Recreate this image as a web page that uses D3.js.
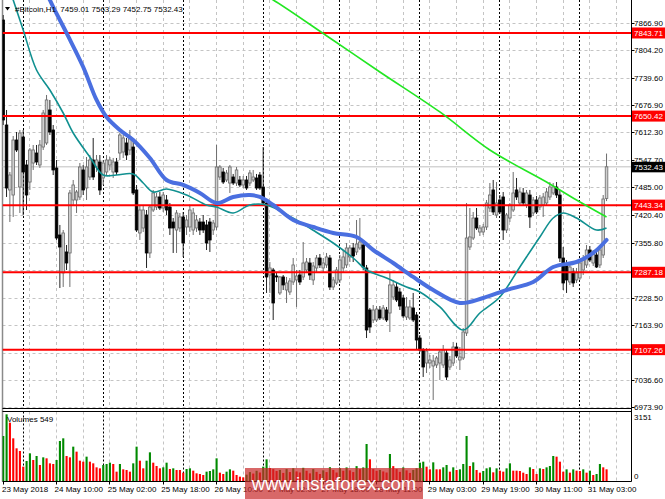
<!DOCTYPE html>
<html><head><meta charset="utf-8">
<script src="https://cdn.jsdelivr.net/npm/d3@7"></script>
<style>
body{margin:0;background:#fff;}
svg{display:block;}
text{font-family:"Liberation Sans",Arial,sans-serif;}
</style>
</head><body>
<svg id="c" width="665" height="499"></svg>
<script>
// ---------------- DATA ----------------
const symbolTitle = "#Bitcoin,H1";
const lastOHLC = [7459.01, 7563.29, 7452.75, 7532.43];

const opens = [7873.9,7629.7,7478.6,7466.9,7594.8,7485.5,7601.8,7536.7,7497.1,7541.3,
7564.6,7536.7,7578.5,7587.9,7664.6,7618.1,7529.7,7373.9,7285.6,7334.4,
7332.1,7455.3,7455.3,7462.3,7525.1,7483.2,7508.8,7548.3,7532.0,7543.7,
7506.5,7520.4,7536.7,7520.4,7543.7,7564.6,7566.9,7587.9,7571.6,7578.5,
7478.6,7378.6,7390.2,7420.4,7332.1,7432.0,7439.0,7462.3,7436.7,7455.3,
7439.0,7404.1,7385.5,7390.2,7415.8,7392.5,7392.5,7385.5,7390.2,7404.1,
7404.1,7397.2,7404.1,7385.5,7392.5,7508.8,7520.4,7501.8,7494.8,7508.8,
7494.8,7501.8,7490.2,7501.8,7494.8,7501.8,7506.5,7513.4,7485.5,7448.3,
7280.9,7292.5,7278.6,7239.1,7276.3,7246.0,7241.4,7264.6,7269.3,7280.9,
7276.3,7292.5,7308.8,7269.3,7297.2,7320.4,7297.2,7304.2,7320.4,7253.0,
7262.3,7269.3,7297.2,7304.2,7322.8,7343.7,7334.4,7343.7,7350.6,7297.2,
7199.5,7176.2,7176.2,7199.5,7180.9,7199.5,7192.5,7229.7,7253.0,7241.4,
7227.4,7183.2,7180.9,7204.2,7187.9,7134.3,7106.5,7076.2,7076.2,7069.3,
7071.6,7076.2,7071.6,7099.5,7066.9,7076.2,7113.4,7083.2,7087.9,7146.0,
7346.0,7366.9,7413.4,7380.9,7380.9,7392.5,7436.7,7478.6,7420.4,7455.3,
7462.3,7385.5,7413.4,7432.0,7478.6,7448.3,7471.6,7443.7,7466.9,7425.1,
7455.3,7439.0,7443.7,7448.3,7462.3,7471.6,7485.5,7466.9,7320.4,7304.2,
7264.6,7287.9,7269.3,7273.9,7292.5,7304.2,7339.0,7308.8,7327.4,7304.2,
7327.4,7459.01];
const highs = [7885.5,7664.6,7520.4,7604.1,7613.4,7618.1,7618.1,7548.3,7576.2,7583.2,
7583.2,7594.8,7664.6,7699.5,7687.9,7629.7,7548.3,7397.2,7385.5,7350.6,
7478.6,7501.8,7478.6,7541.3,7536.7,7555.3,7559.9,7599.5,7559.9,7559.9,
7548.3,7559.9,7555.3,7553.0,7553.0,7611.1,7606.5,7599.5,7618.1,7594.8,
7490.2,7443.7,7443.7,7432.0,7443.7,7478.6,7471.6,7473.9,7473.9,7466.9,
7448.3,7413.4,7432.0,7425.1,7427.4,7420.4,7443.7,7436.7,7420.4,7413.4,
7420.4,7408.8,7413.4,7408.8,7583.2,7536.7,7529.7,7525.1,7536.7,7515.8,
7532.0,7511.1,7511.1,7511.1,7525.1,7525.1,7515.8,7520.4,7578.5,7455.3,
7311.1,7297.2,7287.9,7278.6,7280.9,7276.3,7273.9,7320.4,7292.5,7292.5,
7357.6,7320.4,7320.4,7311.1,7327.4,7329.7,7320.4,7332.1,7327.4,7276.3,
7299.5,7327.4,7339.0,7355.3,7350.6,7355.3,7408.8,7413.4,7362.3,7304.2,
7204.2,7211.1,7208.8,7208.8,7211.1,7206.5,7287.9,7269.3,7262.3,7250.7,
7234.4,7229.7,7222.8,7239.1,7194.8,7141.3,7111.1,7111.1,7094.9,7094.9,
7092.6,7106.5,7118.1,7106.5,7092.6,7125.1,7122.7,7113.4,7157.6,7448.3,
7436.7,7427.4,7436.7,7397.2,7399.5,7455.3,7494.8,7501.8,7497.1,7466.9,
7473.9,7425.1,7448.3,7520.4,7506.5,7483.2,7483.2,7478.6,7478.6,7462.3,
7464.6,7466.9,7471.6,7483.2,7497.1,7494.8,7497.1,7478.6,7346.0,7315.8,
7308.8,7297.2,7297.2,7315.8,7327.4,7350.6,7348.3,7339.0,7334.4,7350.6,
7466.9,7563.29];
const lows = [7629.7,7462.3,7404.1,7415.8,7566.9,7425.1,7420.4,7432.0,7478.6,7525.1,
7536.7,7529.7,7571.6,7583.2,7606.5,7513.4,7362.3,7250.7,7253.0,7292.5,
7253.0,7443.7,7425.1,7455.3,7466.9,7455.3,7501.8,7501.8,7520.4,7466.9,
7490.2,7513.4,7525.1,7506.5,7513.4,7548.3,7553.0,7548.3,7559.9,7466.9,
7380.9,7362.3,7380.9,7297.2,7320.4,7427.4,7432.0,7432.0,7427.4,7420.4,
7373.9,7332.1,7332.1,7380.9,7322.8,7373.9,7380.9,7373.9,7380.9,7373.9,
7378.6,7339.0,7334.4,7373.9,7385.5,7501.8,7492.5,7497.1,7471.6,7490.2,
7487.9,7485.5,7483.2,7478.6,7487.9,7497.1,7478.6,7478.6,7443.7,7239.1,
7239.1,7176.2,7264.6,7234.4,7246.0,7215.8,7234.4,7257.7,7206.5,7257.7,
7269.3,7285.6,7269.3,7257.7,7287.9,7297.2,7285.6,7297.2,7246.0,7246.0,
7257.7,7262.3,7287.9,7297.2,7311.1,7311.1,7327.4,7339.0,7292.5,7134.3,
7146.0,7169.2,7171.6,7176.2,7176.2,7171.6,7148.3,7222.8,7218.1,7199.5,
7180.9,7176.2,7176.2,7171.6,7106.5,7101.8,7043.7,7053.0,7064.6,6990.2,
7064.6,7036.7,7064.6,7036.7,7060.0,7069.3,7087.9,7060.0,7083.2,7139.0,
7339.0,7362.3,7385.5,7371.6,7373.9,7385.5,7427.4,7420.4,7413.4,7422.7,
7362.3,7378.6,7404.1,7427.4,7455.3,7441.3,7441.3,7436.7,7390.2,7418.1,
7422.7,7432.0,7415.8,7441.3,7455.3,7466.9,7460.0,7311.1,7246.0,7239.1,
7257.7,7253.0,7262.3,7269.3,7280.9,7297.2,7311.1,7301.8,7297.2,7297.2,
7320.4,7452.75];
const closes = [7641.3,7483.2,7513.4,7594.8,7571.6,7611.1,7520.4,7466.9,7571.6,7571.6,
7543.7,7583.2,7657.6,7687.9,7613.4,7525.1,7366.9,7346.0,7378.6,7308.8,
7471.6,7490.2,7473.9,7532.0,7478.6,7532.0,7548.3,7508.8,7548.3,7478.6,
7541.3,7548.3,7548.3,7543.7,7520.4,7606.5,7599.5,7559.9,7601.8,7471.6,
7385.5,7432.0,7432.0,7332.1,7439.0,7471.6,7462.3,7436.7,7466.9,7432.0,
7390.2,7390.2,7425.1,7415.8,7355.3,7408.8,7432.0,7425.1,7408.8,7385.5,
7385.5,7355.3,7362.3,7401.8,7532.0,7532.0,7497.1,7518.1,7532.0,7494.8,
7525.1,7490.2,7501.8,7483.2,7518.1,7508.8,7483.2,7483.2,7448.3,7276.3,
7297.2,7215.8,7276.3,7276.3,7257.7,7262.3,7267.0,7304.2,7278.6,7264.6,
7308.8,7311.1,7280.9,7301.8,7320.4,7304.2,7308.8,7322.8,7253.0,7269.3,
7292.5,7315.8,7322.8,7343.7,7343.7,7325.1,7353.0,7357.6,7299.5,7153.0,
7159.9,7199.5,7201.8,7180.9,7204.2,7176.2,7257.7,7257.7,7222.8,7208.8,
7185.6,7206.5,7206.5,7176.2,7129.7,7106.5,7066.9,7104.2,7083.2,7080.9,
7087.9,7101.8,7106.5,7043.7,7083.2,7113.4,7092.6,7090.2,7148.3,7366.9,
7369.3,7413.4,7390.2,7390.2,7392.5,7448.3,7466.9,7427.4,7448.3,7427.4,
7385.5,7420.4,7443.7,7471.6,7462.3,7473.9,7448.3,7471.6,7415.8,7455.3,
7427.4,7460.0,7462.3,7473.9,7485.5,7485.5,7466.9,7320.4,7262.3,7269.3,
7299.5,7262.3,7285.6,7308.8,7315.8,7339.0,7315.8,7332.1,7299.5,7339.0,
7457.6,7532.43];

const volumes = [2117,3136,2744,2007,1537,1411,674,941,1301,988,
1176,753,1113,1066,831,800,988,1882,2007,1176,
1113,1615,1380,956,909,1145,909,831,643,596,
753,800,862,800,439,800,549,517,439,831,
1615,956,596,956,1348,862,706,596,643,862,
564,596,517,517,392,564,596,486,361,329,
282,439,470,549,1066,392,329,439,549,486,
282,204,172,300,420,350,480,400,674,1019,
611,560,470,520,380,560,420,600,450,400,
620,480,360,560,430,330,500,420,650,520,
400,600,480,640,500,420,700,560,640,1740,
1019,560,480,520,450,400,1270,700,560,430,
640,500,380,520,600,862,909,674,549,878,
549,549,643,753,439,643,517,549,800,2117,
706,878,517,392,470,596,643,408,596,486,
439,596,831,486,486,470,392,329,643,564,
329,596,564,643,706,1176,1145,909,439,549,
392,549,486,470,549,392,486,282,329,800,
643,549];
const volumeScaleMax = 3151;

// moving averages (bar index, price)
const maBlueBars = [11,14,19,24,28,31,35,39,44,49,54,59,64,69,74,77,81,87,93,99,106,111,117,123,129,137,144,151,159,165,172,177,181];
const maBlueVals = [7978.5,7920.4,7843.7,7764.6,7687.9,7648.3,7618.1,7594.8,7553.0,7501.8,7490.2,7471.6,7448.3,7462.3,7466.9,7462.3,7443.7,7408.8,7392.5,7378.6,7369.3,7339.0,7308.8,7276.3,7246.0,7215.8,7227.4,7246.0,7264.6,7299.5,7311.1,7332.1,7362.3];
const maTealBars = [1,3,6,10,14,18,21,26,30,34,39,42,45,49,55,61,64,69,74,79,87,93,99,105,109,115,121,125,131,138,143,149,155,161,165,168,172,178,181];
const maTealVals = [7967.0,7920.4,7850.6,7757.6,7711.1,7657.6,7611.1,7555.3,7513.4,7513.4,7515.8,7494.8,7473.9,7480.9,7466.9,7443.7,7439.0,7425.1,7443.7,7443.7,7413.0,7385.0,7355.3,7320.4,7292.5,7273.9,7253.0,7241.4,7206.5,7152.9,7192.5,7229.7,7299.5,7369.3,7413.4,7425.1,7413.4,7385.5,7390.2];
const maGreenBars = [78,81,98,113,131,146,163,172,181];
const maGreenVals = [7932.0,7920.4,7832.0,7753.0,7660.0,7571.6,7497.1,7455.3,7415.8];

const priceTicks = [7866.90,7804.20,7739.60,7676.90,7612.30,7547.70,7485.00,7420.40,7355.80,7292.10,7228.50,7163.90,7100.20,7036.60,6973.90];
const levelLines = [7843.71,7650.42,7443.34,7287.18,7107.26];
const currentPrice = 7532.43;

const xLabelBars = [0,16,32,48,64,80,96,112,128,144,160,176];
const xLabelTexts = ["23 May 2018","24 May 10:00","25 May 02:00","25 May 18:00","26 May 10:00","27 May 02:00","27 May 18:00","28 May 11:00","29 May 03:00","29 May 19:00","30 May 11:00","31 May 03:00"];
const daySeparatorBars = [6,30,54,78,101,125,149,173];
const gridBars = d3.range(8, 188, 8);

// ---------------- DRAW ----------------
const svg = d3.select("#c");
const x = d3.scaleLinear().domain([0,189]).range([3.2,633.2]);
const y = d3.scaleLinear().domain([6973.9,7866.9]).range([407,23]);
const yv = d3.scaleLinear().domain([0,volumeScaleMax]).range([481,414]);
const L = 2.5, R = 631.5, mainTop = 0, mainBot = 408.5, volTop = 411.5, volBot = 481.5;
const px = v => Math.floor(v) + 0.5;

svg.append("rect").attr("width",665).attr("height",499).attr("fill","#fff");
const defs = svg.append("defs");
defs.append("clipPath").attr("id","cm").append("rect").attr("x",2.5).attr("y",0).attr("width",628.5).attr("height",408);
defs.append("clipPath").attr("id","cv").append("rect").attr("x",2.5).attr("y",412).attr("width",628.5).attr("height",69);

// horizontal grid
svg.append("g").selectAll("line").data(priceTicks).join("line")
  .attr("x1",L).attr("x2",R).attr("y1",d=>Math.round(y(d))+0.5).attr("y2",d=>Math.round(y(d))+0.5)
  .attr("stroke","#c4c4c4").attr("stroke-dasharray","3,3");
// vertical grid
const vg = svg.append("g");
[[mainTop,mainBot],[volTop,volBot]].forEach(([a,b])=>{
  vg.append("g").selectAll("line").data(gridBars.filter(g=>!daySeparatorBars.includes(g))).join("line")
    .attr("x1",d=>px(x(d))).attr("x2",d=>px(x(d))).attr("y1",a).attr("y2",b)
    .attr("stroke","#c4c4c4").attr("stroke-dasharray","3,3");
  vg.append("g").selectAll("line").data(daySeparatorBars).join("line")
    .attr("x1",d=>px(x(d))).attr("x2",d=>px(x(d))).attr("y1",a).attr("y2",b)
    .attr("stroke","#000").attr("stroke-dasharray","2,2");
});

// left frame (under candles)
svg.append("line").attr("x1",L).attr("x2",L).attr("y1",0).attr("y2",volBot).attr("stroke","#8a8a8a").attr("stroke-width",1.5);

// current price line
svg.append("line").attr("x1",L).attr("x2",R).attr("y1",y(currentPrice)).attr("y2",y(currentPrice))
  .attr("stroke","#c0c0c0");

// candles
const cg = svg.append("g").attr("clip-path","url(#cm)");
const idx = d3.range(closes.length);
const bull = i => closes[i] >= opens[i];
cg.selectAll("line.w").data(idx).join("line").attr("class","w")
  .attr("x1",i=>x(i)).attr("x2",i=>x(i)).attr("y1",i=>y(highs[i])).attr("y2",i=>y(lows[i]))
  .attr("stroke",i=>bull(i)?"#6e6e6e":"#222").attr("stroke-width",1);
cg.selectAll("rect.b").data(idx).join("rect").attr("class","b")
  .attr("x",i=>x(i)-1.3).attr("width",2.6)
  .attr("y",i=>y(Math.max(opens[i],closes[i])))
  .attr("height",i=>Math.max(1,Math.abs(y(opens[i])-y(closes[i]))))
  .attr("fill",i=>bull(i)?"#cfcfcf":"#000")
  .attr("stroke",i=>bull(i)?"#6a6a6a":"#000").attr("stroke-width",0.8);

// level lines
svg.append("g").attr("clip-path","url(#cm)").selectAll("line").data(levelLines).join("line")
  .attr("x1",L).attr("x2",R).attr("y1",d=>y(d)).attr("y2",d=>y(d))
  .attr("stroke","#ff0000").attr("stroke-width",2);

// moving averages
const mline = d3.line().x(d=>x(d[0])).y(d=>y(d[1])).curve(d3.curveCatmullRom.alpha(0.5));
const mg = svg.append("g").attr("clip-path","url(#cm)");
mg.append("path").datum(maGreenBars.map((b,i)=>[b,maGreenVals[i]])).attr("d",mline)
  .attr("fill","none").attr("stroke","#22e622").attr("stroke-width",1.6);
mg.append("path").datum(maTealBars.map((b,i)=>[b,maTealVals[i]])).attr("d",mline)
  .attr("fill","none").attr("stroke","#109090").attr("stroke-width",1.6);
mg.append("path").datum(maBlueBars.map((b,i)=>[b,maBlueVals[i]])).attr("d",mline)
  .attr("fill","none").attr("stroke","#4a6fe0").attr("stroke-width",4).attr("stroke-linecap","round");

// volumes
svg.append("g").attr("clip-path","url(#cv)").selectAll("rect").data(idx).join("rect")
  .attr("x",i=>x(i)-1).attr("width",2.1)
  .attr("y",i=>yv(volumes[i])).attr("height",i=>yv(0)-yv(volumes[i]))
  .attr("fill",i=>(i===0 || volumes[i]>volumes[i-1]) ? "#008a00" : "#ff0000");

// frames
const fr = svg.append("g").attr("stroke","#000").attr("stroke-width",1);
fr.append("line").attr("x1",L).attr("x2",R).attr("y1",mainBot).attr("y2",mainBot);
fr.append("line").attr("x1",L).attr("x2",R).attr("y1",volTop).attr("y2",volTop);
fr.append("line").attr("x1",L).attr("x2",R).attr("y1",volBot).attr("y2",volBot);
fr.append("line").attr("x1",R).attr("x2",R).attr("y1",0).attr("y2",volBot);

// price axis (labels hidden behind a level box are not written)
const hiddenBy = v => levelLines.concat([currentPrice]).some(l => Math.abs(y(l)-y(v)) < 4.5);
const pa = svg.append("g");
pa.selectAll("line").data(priceTicks).join("line")
  .attr("x1",R).attr("x2",R+3).attr("y1",d=>Math.round(y(d))+0.5).attr("y2",d=>Math.round(y(d))+0.5).attr("stroke","#000");
pa.selectAll("text").data(priceTicks.filter(v=>!hiddenBy(v))).join("text")
  .attr("x",634).attr("y",d=>y(d)+3).attr("font-size",8).attr("fill","#000")
  .text(d=>d.toFixed(2));

// level labels
const ll = svg.append("g");
levelLines.forEach(v=>{
  ll.append("rect").attr("x",632).attr("y",y(v)-5.5).attr("width",33).attr("height",11).attr("fill","#ff0000");
  ll.append("text").attr("x",634).attr("y",y(v)+3).attr("font-size",8).attr("fill","#fff").text(v.toFixed(2));
});
ll.append("rect").attr("x",632).attr("y",y(currentPrice)-5).attr("width",33).attr("height",10.5).attr("fill","#000");
ll.append("text").attr("x",634).attr("y",y(currentPrice)+3.2).attr("font-size",8).attr("fill","#fff").text(currentPrice.toFixed(2));

// volume axis
svg.append("text").attr("x",634).attr("y",yv(volumeScaleMax)+6).attr("font-size",8).text(String(volumeScaleMax));
svg.append("text").attr("x",634).attr("y",yv(0)-2).attr("font-size",8).text("0");
svg.append("text").attr("x",7).attr("y",yv(volumeScaleMax)+8).attr("font-size",8).text("Volumes " + volumes[volumes.length-1]);

// time axis
const ta = svg.append("g");
ta.selectAll("line").data(xLabelBars).join("line")
  .attr("x1",b=>px(x(b))).attr("x2",b=>px(x(b))).attr("y1",volBot).attr("y2",volBot+3).attr("stroke","#000");
ta.selectAll("text").data(xLabelBars).join("text")
  .attr("x",b=>Math.max(2,x(b)-2)).attr("y",492).attr("font-size",8).attr("fill","#000")
  .text((b,i)=>xLabelTexts[i]);

// title
svg.append("path").attr("d","M5,7 L10,7 L7.5,10.5 Z").attr("fill","#000");
svg.append("text").attr("x",15).attr("y",12).attr("font-size",8).attr("fill","#000")
  .attr("xml:space","preserve").style("white-space","pre")
  .text(symbolTitle + "  " + lastOHLC.map(v=>v.toFixed(2)).join(" "));

// watermark
svg.append("rect").attr("x",245).attr("y",468).attr("width",178).attr("height",31).attr("fill","rgba(200,40,40,0.7)");
svg.append("text").attr("x",334).attr("y",490).attr("text-anchor","middle").attr("font-size",18.5)
  .attr("fill","#fff").text("www.instaforex.com");
</script>
</body></html>
